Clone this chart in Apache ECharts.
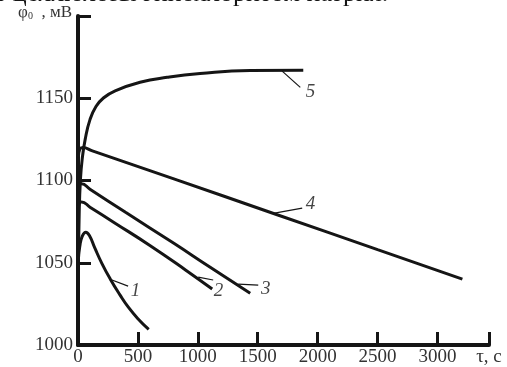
<!DOCTYPE html>
<html>
<head>
<meta charset="utf-8">
<script src="https://cdn.jsdelivr.net/npm/echarts@6/dist/echarts.min.js"></script>
<style>
  html, body { margin: 0; padding: 0; background: #fff; }
  #chart { width: 507px; height: 367px; }
</style>
</head>
<body>
<div id="chart"></div>
<script>
// curves: [time, s ; potential, mV]
const curve1 = [[3, 1052], [15, 1060], [35, 1066], [65, 1068.5], [95, 1066.5], [140, 1059], [200, 1049.5], [270, 1040], [350, 1030.5], [420, 1023], [500, 1016], [590, 1009.5]];
const curve2 = [[3, 1083], [12, 1086.5], [30, 1087], [100, 1083.8], [300, 1074.5], [600, 1060.5], [900, 1045.5], [1120, 1034]];
const curve3 = [[3, 1094], [12, 1097.5], [30, 1098], [100, 1094.7], [400, 1080.5], [800, 1061.8], [1100, 1047.4], [1437, 1031.5]];
const curve4 = [[3, 1114], [15, 1119], [40, 1120], [120, 1118], [800, 1101], [1662, 1079.2], [2500, 1058], [3208, 1040]];
const curve5 = [[3, 1045], [10, 1080], [20, 1100], [35, 1113], [60, 1125], [100, 1137], [150, 1145], [210, 1150], [310, 1154.5], [518, 1159.7], [744, 1162.7], [1019, 1165], [1437, 1166.8], [1880, 1167]];

const curveNames = ['1', '2', '3', '4', '5'];
// leader line: from point on curve -> toward label, then label position
const leaderFrom = [[267, 1040], [1003, 1041.3], [1337, 1037], [1629, 1080], [1704, 1166.5]];
const leaderTo = [[418, 1035.8], [1128, 1039.5], [1504, 1036.4], [1871, 1083.2], [1855, 1156.6]];
const labelAt = [[480, 1033], [1172, 1033], [1566, 1034], [1940, 1086], [1940, 1154]];

const xMin = 0, xMax = 3430, xStep = 500;
const yMin = 1000, yMax = 1200, yStep = 50;

const chart = echarts.init(document.getElementById('chart'));
const serif = '"Liberation Serif", "DejaVu Serif", serif';
const ink = '#151515';

const curves = [curve1, curve2, curve3, curve4, curve5];
const series = curves.map((c, i) => ({
  type: 'line',
  name: curveNames[i],
  data: c,
  smooth: 0.5,
  symbol: 'none',
  lineStyle: { color: ink, width: 3 },
  z: 3,
  markLine: {
    silent: true,
    symbol: 'none',
    label: { show: false },
    lineStyle: { color: ink, width: 1.2, type: 'solid' },
    data: [[{ coord: leaderFrom[i] }, { coord: leaderTo[i] }]]
  }
}));

series.push({
  type: 'scatter',
  symbolSize: 0,
  silent: true,
  data: labelAt.map((p, i) => ({ value: p, name: curveNames[i] })),
  label: {
    show: true,
    position: 'inside',
    formatter: '{b}',
    fontFamily: serif,
    fontStyle: 'italic',
    fontSize: 19,
    color: ink
  }
});

chart.setOption({
  animation: false,
  grid: { left: 78, right: 18, top: 16, bottom: 22 },
  graphic: [{
    type: 'text',
    left: -5,
    top: -19,
    style: {
      text: 'т целлюлозы гипохлоритом натрия.',
      font: '26px ' + serif,
      fill: ink
    }
  }],
  xAxis: {
    type: 'value',
    min: xMin, max: xMax, interval: xStep,
    splitLine: { show: false },
    axisLine: { lineStyle: { color: ink, width: 4 } },
    axisTick: { inside: true, length: 13, lineStyle: { color: ink, width: 3 } },
    axisLabel: {
      margin: 3,
      showMaxLabel: true,
      fontFamily: serif, fontSize: 19, color: '#333',
      formatter: v => (v === xMax ? 'τ, с' : String(v))
    }
  },
  yAxis: {
    type: 'value',
    min: yMin, max: yMax, interval: yStep,
    splitLine: { show: false },
    axisLine: { lineStyle: { color: ink, width: 4 } },
    axisTick: { inside: true, length: 13, lineStyle: { color: ink, width: 3 } },
    axisLabel: {
      margin: 5,
      fontFamily: serif, fontSize: 19, color: '#333',
      formatter: v => (v === yMax ? '' : String(v))
    },
    name: '{a|φ}{b|0}{a|  , мВ}',
    nameLocation: 'end',
    nameGap: 3,
    nameTextStyle: {
      align: 'right',
      verticalAlign: 'middle',
      padding: [0, 6, 0, 0],
      rich: {
        a: { fontFamily: serif, fontSize: 17, color: '#333' },
        b: { fontFamily: serif, fontSize: 10, color: '#333', verticalAlign: 'bottom' }
      }
    }
  },
  series
});
</script>
</body>
</html>
